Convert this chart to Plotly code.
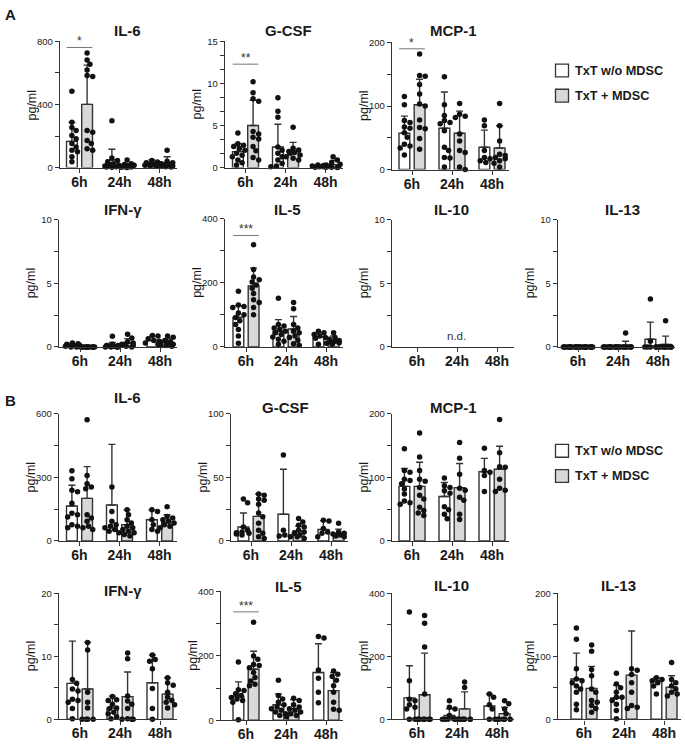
import plotly.graph_objects as go

W, H = 685, 745
TIMES = ["6h", "24h", "48h"]
LEGEND_LABELS = ["TxT w/o MDSC", "TxT + MDSC"]

# ================= DATA =================
# ---- Panel A ----
A_IL6_ctrl_mean = [166, 48, 23]
A_IL6_ctrl_sd = [121, 68, 25]
A_IL6_mdsc_mean = [401, 12, 27]
A_IL6_mdsc_sd = [249, 13, 42]
A_IL6_ctrl_pts = [[484, 287, 255, 235, 204, 183, 152, 131, 110, 100, 69, 37],
                  [297, 60, 45, 35, 25, 20, 15, 10, 8, 5, 3, 2],
                  [45, 35, 30, 25, 22, 20, 18, 15, 12, 10]]
A_IL6_mdsc_pts = [[727, 682, 655, 619, 584, 578, 235, 224, 172, 152, 120, 110],
                  [48, 25, 20, 15, 12, 10, 8, 5, 4, 3, 2, 1],
                  [110, 40, 30, 25, 20, 15, 10, 8, 5, 3]]

A_GCSF_ctrl_mean = [1.9, 2.45, 0.15]
A_GCSF_ctrl_sd = [0.95, 2.7, 0.1]
A_GCSF_mdsc_mean = [5.0, 2.0, 0.35]
A_GCSF_mdsc_sd = [3.0, 1.0, 0.5]
A_GCSF_ctrl_pts = [[4.1, 2.84, 2.65, 2.5, 2.26, 2.06, 1.7, 1.48, 1.29, 0.9, 0.58, 0.3],
                   [8.3, 6.7, 6.0, 2.45, 2.06, 1.7, 1.3, 0.9, 0.5, 0.2, 0.1],
                   [0.3, 0.25, 0.2, 0.15, 0.1, 0.05, 0.1]]
A_GCSF_mdsc_pts = [[10.2, 8.9, 8.2, 7.9, 4.3, 4.0, 3.6, 3.4, 2.5, 2.0, 1.2, 0.9],
                   [4.8, 2.3, 2.1, 1.9, 1.8, 1.7, 1.5, 1.3, 1.1, 0.9],
                   [1.3, 0.9, 0.6, 0.4, 0.3, 0.2, 0.1, 0.05, 0.05, 0.0]]

A_MCP1_ctrl_mean = [57, 65, 35]
A_MCP1_ctrl_sd = [27, 57, 27]
A_MCP1_mdsc_mean = [102, 57, 34]
A_MCP1_mdsc_sd = [40, 35, 35]
A_MCP1_ctrl_pts = [[115, 102, 77, 74, 67, 65, 58, 51, 40, 37, 34, 23],
                   [146, 102, 85, 77, 74, 72, 61, 35, 30, 19, 18, 4],
                   [78, 69, 30, 19, 17, 14, 11]]
A_MCP1_mdsc_pts = [[182, 148, 147, 134, 119, 103, 100, 78, 66, 64, 49, 32],
                   [104, 87, 84, 82, 56, 45, 30, 27, 4, 0],
                   [104, 69, 45, 24, 22, 19, 17, 14, 10, 4]]

A_IFNG_ctrl_mean = [0.1, 0.1, 0.5]
A_IFNG_ctrl_sd = [0.1, 0.25, 0.35]
A_IFNG_mdsc_mean = [0.0, 0.3, 0.35]
A_IFNG_mdsc_sd = [0.0, 0.35, 0.3]
A_IFNG_ctrl_pts = [[0.3, 0.25, 0.2, 0.15, 0.1, 0.1, 0.05, 0.05, 0.0, 0.0, 0.1, 0.2],
                   [0.83, 0.2, 0.1, 0.1, 0.05, 0.05, 0, 0, 0, 0, 0.1, 0.05],
                   [0.9, 0.85, 0.65, 0.5, 0.45, 0.3, 0.2]]
A_IFNG_mdsc_pts = [[0, 0, 0, 0, 0, 0, 0, 0, 0, 0, 0, 0],
                   [1.0, 0.7, 0.4, 0.3, 0.2, 0.2, 0.1, 0.1, 0.05, 0.0],
                   [0.85, 0.75, 0.5, 0.4, 0.3, 0.25, 0.2, 0.1, 0.1, 0.05]]

A_IL5_ctrl_mean = [92, 49, 31]
A_IL5_ctrl_sd = [37, 36, 13]
A_IL5_mdsc_mean = [190, 56, 20]
A_IL5_mdsc_sd = [56, 39, 14]
A_IL5_ctrl_pts = [[174, 131, 126, 123, 106, 100, 92, 82, 70, 54, 34, 11],
                  [152, 70, 65, 59, 54, 49, 44, 39, 31, 24, 18, 8],
                  [49, 44, 39, 34, 29, 27, 8]]
A_IL5_mdsc_pts = [[319, 242, 218, 210, 203, 193, 183, 167, 147, 139, 123, 100],
                  [139, 119, 70, 59, 49, 44, 34, 29, 21, 10, 5],
                  [44, 29, 24, 20, 18, 15, 13, 11, 8]]

A_IL13_ctrl_mean = [0, 0, 0.6]
A_IL13_ctrl_sd = [0, 0, 1.35]
A_IL13_mdsc_mean = [0, 0.12, 0.2]
A_IL13_mdsc_sd = [0, 0.33, 0.65]
A_IL13_ctrl_pts = [[0, 0, 0, 0, 0, 0, 0, 0, 0, 0, 0, 0],
                   [0, 0, 0, 0, 0, 0, 0, 0, 0, 0, 0, 0],
                   [3.77, 0.45, 0, 0, 0, 0, 0]]
A_IL13_mdsc_pts = [[0, 0, 0, 0, 0, 0, 0, 0, 0, 0, 0, 0],
                   [1.1, 0, 0, 0, 0, 0, 0, 0, 0, 0],
                   [2.05, 0, 0, 0, 0, 0, 0, 0, 0, 0]]

# ---- Panel B ----
B_IL6_ctrl_mean = [165, 170, 100]
B_IL6_ctrl_sd = [98, 286, 47]
B_IL6_mdsc_mean = [201, 77, 88]
B_IL6_mdsc_sd = [150, 70, 36]
B_IL6_ctrl_pts = [[332, 294, 240, 232, 178, 131, 124, 113, 77, 70, 62],
                  [255, 139, 93, 77, 70, 62, 54, 46, 39],
                  [147, 139, 100, 77, 54, 46]]
B_IL6_mdsc_pts = [[572, 309, 270, 255, 247, 124, 108, 93, 70, 62, 54],
                  [147, 124, 100, 85, 70, 62, 54, 46, 39, 31, 23],
                  [162, 116, 108, 100, 93, 85, 77, 70, 62]]

B_GCSF_ctrl_mean = [11, 21, 9]
B_GCSF_ctrl_sd = [11, 35.5, 7]
B_GCSF_mdsc_mean = [19.4, 8, 6]
B_GCSF_mdsc_sd = [17.6, 3.7, 3.3]
B_GCSF_ctrl_pts = [[33, 30, 11, 8.5, 7, 6.5, 6, 5.4, 4.7],
                   [67.6, 8.5, 4.7, 3.9, 3.4],
                   [16.3, 15.8, 9.8, 7, 6, 3.4]]
B_GCSF_mdsc_pts = [[37, 36, 33, 32, 29, 22, 19, 14, 8.5, 6, 3.4, 2],
                   [17.6, 15, 12.4, 11, 8.5, 7, 6, 4.7, 3.4, 2],
                   [14, 7, 6, 5.4, 4.7, 3.9, 3.4]]

B_MCP1_ctrl_mean = [86, 70, 109]
B_MCP1_ctrl_sd = [28, 22, 21]
B_MCP1_mdsc_mean = [86, 84, 113]
B_MCP1_mdsc_sd = [38, 38, 36]
B_MCP1_ctrl_pts = [[145, 111, 108, 97, 95, 90, 82, 74, 63, 60, 58],
                   [99, 87, 84, 79, 75, 54, 49, 42, 35],
                   [146, 111, 108, 103, 78]]
B_MCP1_mdsc_pts = [[170, 132, 111, 97, 94, 84, 72, 66, 53, 48, 44, 40],
                   [155, 130, 105, 83, 80, 69, 64, 42, 34],
                   [191, 139, 117, 116, 97, 83, 80, 78]]

B_IFNG_ctrl_mean = [5.7, 1.77, 5.8]
B_IFNG_ctrl_sd = [6.7, 1.9, 4.4]
B_IFNG_mdsc_mean = [4.8, 3.6, 4.0]
B_IFNG_mdsc_sd = [7.4, 3.9, 2.6]
B_IFNG_ctrl_pts = [[6.3, 5.7, 4.8, 4.5, 3.2, 3.0, 2.7, 1.7, 0.1],
                   [3.6, 3.1, 3.0, 2.4, 1.8, 1.7, 1.1, 0.9, 0.4, 0.1],
                   [10.2, 9.5, 9.2, 8.0, 4.9, 1.7, 0]]
B_IFNG_mdsc_pts = [[12.2, 11.0, 4.3, 2.7, 1.8, 0, 0, 0, 0],
                   [10.5, 9.6, 3.7, 2.9, 2.4, 1.7, 0.1, 0, 0, 0],
                   [6.6, 5.8, 5.4, 4.3, 3.5, 3.0, 2.7, 2.3, 1.8]]

B_IL5_ctrl_mean = [74, 48, 148]
B_IL5_ctrl_sd = [45, 34, 89]
B_IL5_mdsc_mean = [158, 36, 92]
B_IL5_mdsc_sd = [56, 28, 56]
B_IL5_ctrl_pts = [[181, 95, 92, 82, 77, 71, 66, 61, 56, 2],
                  [124, 77, 66, 56, 48, 41, 36, 31, 26, 20, 15],
                  [260, 255, 156, 130, 87, 54]]
B_IL5_mdsc_pts = [[304, 199, 189, 173, 170, 163, 148, 133, 122, 112, 107],
                  [68, 61, 48, 41, 36, 31, 26, 20, 15, 10],
                  [153, 143, 136, 124, 107, 87, 56, 34, 31]]

B_IL10_ctrl_mean = [68, 12, 42]
B_IL10_ctrl_sd = [102, 21, 38]
B_IL10_mdsc_mean = [78, 33, 18]
B_IL10_mdsc_sd = [132, 54, 20]
B_IL10_ctrl_pts = [[340, 122, 64, 59, 46, 38, 33, 0, 0],
                   [59, 38, 33, 12, 2, 0, 0, 0, 0],
                   [80, 70, 46, 33, 0, 0]]
B_IL10_mdsc_pts = [[329, 305, 229, 80, 0, 0, 0, 0, 0, 0, 0],
                   [118, 101, 0, 0, 0, 0, 0, 0, 0],
                   [59, 49, 33, 18, 0, 0, 0, 0, 0]]

B_IL13_ctrl_mean = [64, 34, 61]
B_IL13_ctrl_sd = [41, 20, 5]
B_IL13_mdsc_mean = [49, 70, 51]
B_IL13_mdsc_sd = [35, 70, 18]
B_IL13_ctrl_pts = [[145, 127, 80, 64, 61, 58, 53, 48, 43, 24, 15],
                   [73, 56, 50, 43, 35, 35, 30, 24, 14, 1],
                   [66, 63, 61, 58, 53, 40]]
B_IL13_mdsc_pts = [[118, 108, 79, 69, 48, 43, 30, 27, 22, 17, 11],
                   [80, 78, 71, 58, 43, 22, 19, 17],
                   [90, 63, 58, 53, 48, 43, 40, 37]]

# significance: (time index, y value of bracket, stars)
A_IL6_sig = (0, 762, "*")
A_GCSF_sig = (0, 12.3, "**")
A_MCP1_sig = (0, 190, "*")
A_IL5_sig = (0, 348, "***")
B_IL5_sig = (0, 336, "***")

# ================= PANEL CONFIG (layout in pixels) =================
# title, data tuple, ymax, minor tick step, label step, sig,
# axis_x, first group x, y of top, y of zero, title x, title y
PANELS = [
    ("IL-6", (A_IL6_ctrl_mean, A_IL6_ctrl_sd, A_IL6_ctrl_pts, A_IL6_mdsc_mean, A_IL6_mdsc_sd, A_IL6_mdsc_pts),
     800, 200, 400, A_IL6_sig, 60, 79.5, 36, 164, 127, 25),
    ("G-CSF", (A_GCSF_ctrl_mean, A_GCSF_ctrl_sd, A_GCSF_ctrl_pts, A_GCSF_mdsc_mean, A_GCSF_mdsc_sd, A_GCSF_mdsc_pts),
     15, 5 / 3, 5, A_GCSF_sig, 225, 245.5, 36, 164, 288, 25),
    ("MCP-1", (A_MCP1_ctrl_mean, A_MCP1_ctrl_sd, A_MCP1_ctrl_pts, A_MCP1_mdsc_mean, A_MCP1_mdsc_sd, A_MCP1_mdsc_pts),
     200, 50, 100, A_MCP1_sig, 392, 412, 37, 166, 453, 25),
    ("IFN-γ", (A_IFNG_ctrl_mean, A_IFNG_ctrl_sd, A_IFNG_ctrl_pts, A_IFNG_mdsc_mean, A_IFNG_mdsc_sd, A_IFNG_mdsc_pts),
     10, 2.5, 5, None, 59, 80, 217, 346, 123, 207),
    ("IL-5", (A_IL5_ctrl_mean, A_IL5_ctrl_sd, A_IL5_ctrl_pts, A_IL5_mdsc_mean, A_IL5_mdsc_sd, A_IL5_mdsc_pts),
     400, 100, 200, A_IL5_sig, 225, 246, 216, 346, 287, 207),
    ("IL-10", None,
     10, 2.5, 5, None, 392, 417, 217, 346, 452, 207),
    ("IL-13", (A_IL13_ctrl_mean, A_IL13_ctrl_sd, A_IL13_ctrl_pts, A_IL13_mdsc_mean, A_IL13_mdsc_sd, A_IL13_mdsc_pts),
     10, 2.5, 5, None, 558, 578, 217, 346, 622, 207),
    ("IL-6", (B_IL6_ctrl_mean, B_IL6_ctrl_sd, B_IL6_ctrl_pts, B_IL6_mdsc_mean, B_IL6_mdsc_sd, B_IL6_mdsc_pts),
     600, 150, 300, None, 59, 79.5, 414, 543, 127, 397),
    ("G-CSF", (B_GCSF_ctrl_mean, B_GCSF_ctrl_sd, B_GCSF_ctrl_pts, B_GCSF_mdsc_mean, B_GCSF_mdsc_sd, B_GCSF_mdsc_pts),
     100, 25, 50, None, 231, 251, 414, 543, 285, 408),
    ("MCP-1", (B_MCP1_ctrl_mean, B_MCP1_ctrl_sd, B_MCP1_ctrl_pts, B_MCP1_mdsc_mean, B_MCP1_mdsc_sd, B_MCP1_mdsc_pts),
     200, 50, 100, None, 392, 412, 414, 543, 453, 408),
    ("IFN-γ", (B_IFNG_ctrl_mean, B_IFNG_ctrl_sd, B_IFNG_ctrl_pts, B_IFNG_mdsc_mean, B_IFNG_mdsc_sd, B_IFNG_mdsc_pts),
     20, 5, 10, None, 59, 80, 596, 724, 123, 593),
    ("IL-5", (B_IL5_ctrl_mean, B_IL5_ctrl_sd, B_IL5_ctrl_pts, B_IL5_mdsc_mean, B_IL5_mdsc_sd, B_IL5_mdsc_pts),
     400, 100, 200, B_IL5_sig, 221, 246, 594, 725, 288, 589),
    ("IL-10", (B_IL10_ctrl_mean, B_IL10_ctrl_sd, B_IL10_ctrl_pts, B_IL10_mdsc_mean, B_IL10_mdsc_sd, B_IL10_mdsc_pts),
     400, 100, 200, None, 392, 417, 596, 724, 452, 588),
    ("IL-13", (B_IL13_ctrl_mean, B_IL13_ctrl_sd, B_IL13_ctrl_pts, B_IL13_mdsc_mean, B_IL13_mdsc_sd, B_IL13_mdsc_pts),
     200, 50, 100, None, 558, 584, 596, 724, 618, 588),
]

FONT = "Liberation Sans, Arial, sans-serif"
INK = "#1a1a1a"
LINE = "#333333"
GRAY_FILL = "#d9d9d9"
GROUP_PX = 40.0
OFF = 0.19
BAR_W = 0.27


def px_x(x):
    return x / W


def px_y(y):
    return 1 - y / H


def swarm(vals, py_per_unit, dot=5.0, maxoff=7.0):
    placed = []
    offs = []
    cands = [0.0]
    k = 1
    while k * 1.4 <= maxoff:
        cands += [k * 1.4, -k * 1.4]
        k += 1
    for i, v in enumerate(vals):
        y = v * py_per_unit
        best = None
        for c in cands:
            if all((c - px) ** 2 + (y - yy) ** 2 >= dot ** 2 for px, yy in placed):
                best = c
                break
        if best is None:
            best = cands[(i * 3) % len(cands)]
        placed.append((best, y))
        offs.append(best / GROUP_PX)
    return offs


fig = go.Figure()
layout = {}
annotations = []
shapes = []

for idx, (title, data, ymax, tstep, lstep, sig, ax_x, g0, ytop, yzero, tx, ty) in enumerate(PANELS):
    n = idx + 1
    xa = "x" if n == 1 else f"x{n}"
    ya = "y" if n == 1 else f"y{n}"
    right_px = min(g0 + 2 * GROUP_PX + 17, W - 3)
    xr = [(ax_x - g0) / GROUP_PX, (right_px - g0) / GROUP_PX]
    py_per_unit = (yzero - ytop) / ymax

    nt = int(round(ymax / tstep))
    tickvals = [round(i * tstep, 6) for i in range(nt + 1)]
    ticktext = []
    for v in tickvals:
        r = v / lstep
        ticktext.append(f"{v:g}" if abs(r - round(r)) < 1e-6 else "")

    layout["xaxis" if n == 1 else f"xaxis{n}"] = dict(
        domain=[px_x(ax_x), px_x(right_px)], range=xr, anchor=ya,
        showline=True, linecolor=LINE, linewidth=1.4, ticks="outside", ticklen=4,
        tickwidth=1.2, tickcolor=LINE, tickvals=[0, 1, 2], ticktext=TIMES,
        tickfont=dict(family=FONT, size=14, color=INK, weight="bold"),
        ticklabelstandoff=-3,
        showgrid=False, zeroline=False, fixedrange=True,
    )
    layout["yaxis" if n == 1 else f"yaxis{n}"] = dict(
        domain=[px_y(yzero), px_y(ytop)], range=[0, ymax], anchor=xa,
        showline=True, linecolor=LINE, linewidth=1.4, ticks="outside", ticklen=4,
        tickwidth=1.2, tickcolor=LINE, tickvals=tickvals, ticktext=ticktext,
        tickfont=dict(family=FONT, size=9.5, color=INK),
        showgrid=False, zeroline=False, fixedrange=True,
    )

    annotations.append(dict(text=title, x=px_x(tx), y=px_y(ty), xref="paper", yref="paper",
                            showarrow=False, xanchor="center", yanchor="middle",
                            font=dict(family=FONT, size=15, color=INK, weight="bold")))
    annotations.append(dict(text="pg/ml", x=px_x(ax_x - 28), y=px_y((ytop + yzero) / 2),
                            xref="paper", yref="paper", showarrow=False, textangle=-90,
                            xanchor="center", yanchor="middle",
                            font=dict(family=FONT, size=12.5, color=INK)))

    if data is None:
        fig.add_trace(go.Scatter(x=[], y=[], xaxis=xa, yaxis=ya, showlegend=False))
        annotations.append(dict(text="n.d.", x=1, y=ymax * 11 / (yzero - ytop), xref=xa, yref=ya,
                                showarrow=False, xanchor="center", yanchor="middle",
                                font=dict(family=FONT, size=11.5, color="#333")))
        continue

    c_mean, c_sd, c_pts, m_mean, m_sd, m_pts = data
    for mean, sd, pts, fill, sgn in [(c_mean, c_sd, c_pts, "white", -1),
                                     (m_mean, m_sd, m_pts, GRAY_FILL, 1)]:
        xs = [i + sgn * OFF for i in range(3)]
        fig.add_trace(go.Bar(
            x=xs, y=mean, width=BAR_W, xaxis=xa, yaxis=ya,
            marker=dict(color=fill, line=dict(color=LINE, width=1.4)),
            error_y=dict(type="data", array=sd, arrayminus=[0, 0, 0], symmetric=False,
                         color=LINE, thickness=1.4, width=3.5),
            showlegend=False,
        ))
        px_all, py_all = [], []
        for i, grp in enumerate(pts):
            offs = swarm(grp, py_per_unit)
            px_all += [xs[i] + o for o in offs]
            py_all += grp
        fig.add_trace(go.Scatter(
            x=px_all, y=py_all, mode="markers", xaxis=xa, yaxis=ya, cliponaxis=False,
            marker=dict(color="#111111", size=5.5, line=dict(width=0)),
            showlegend=False,
        ))

    if sig is not None:
        ti, yv, stars = sig
        shapes.append(dict(type="line", xref=xa, yref=ya, x0=ti - 0.32, x1=ti + 0.32,
                           y0=yv, y1=yv, line=dict(color="#777777", width=1)))
        annotations.append(dict(text=stars, x=ti, y=yv, xref=xa, yref=ya, showarrow=False,
                                xanchor="center", yanchor="bottom", yshift=-3,
                                font=dict(family=FONT, size=12, color="#333")))

# panel letters
annotations.append(dict(text="A", x=px_x(3), y=px_y(9), xref="paper", yref="paper", showarrow=False,
                        xanchor="left", yanchor="middle", font=dict(family=FONT, size=15, color=INK, weight="bold")))
annotations.append(dict(text="B", x=px_x(3), y=px_y(400), xref="paper", yref="paper", showarrow=False,
                        xanchor="left", yanchor="middle", font=dict(family=FONT, size=15, color=INK, weight="bold")))

# legends (A and B)
for cy0 in (65.5, 451.5):
    for j, (lab, fill) in enumerate(zip(LEGEND_LABELS, ["white", GRAY_FILL])):
        cy = cy0 + j * 25.5
        shapes.append(dict(type="rect", xref="paper", yref="paper",
                           x0=px_x(555.5), x1=px_x(568.5), y0=px_y(cy + 6.5), y1=px_y(cy - 6.5),
                           fillcolor=fill, line=dict(color=LINE, width=1.3)))
        annotations.append(dict(text=lab, x=px_x(573), y=px_y(cy), xref="paper", yref="paper",
                                showarrow=False, xanchor="left", yanchor="middle",
                                font=dict(family=FONT, size=12.7, color=INK, weight="bold")))

fig.update_layout(
    width=W, height=H, margin=dict(l=0, r=0, t=0, b=0),
    plot_bgcolor="white", paper_bgcolor="white", showlegend=False, barmode="overlay",
    font=dict(family=FONT, color=INK), annotations=annotations, shapes=shapes, **layout,
)

fig.write_html("out.html", config={"displayModeBar": False},
               post_script="document.body.style.margin='0px';document.body.style.overflow='hidden';")
